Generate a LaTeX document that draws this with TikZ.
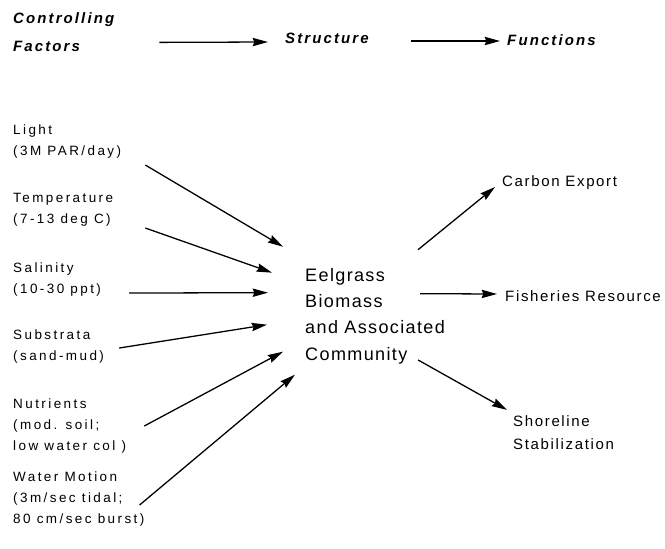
\documentclass[tikz,border=0pt]{standalone}
\usepackage{fontspec}
\setmainfont{Liberation Sans}
\newfontfamily\factorfont[LetterSpace=18]{Liberation Sans}
\newfontfamily\midfont[LetterSpace=7.5]{Liberation Sans}
\newfontfamily\funcfont[LetterSpace=11]{Liberation Sans}
\newfontfamily\headfont[LetterSpace=14]{Liberation Sans}
\usetikzlibrary{arrows.meta}

\begin{document}
\begin{tikzpicture}
[x=0.03cm,y=-0.03cm,>={Stealth[length=4.6mm,width=2.5mm,inset=0.5mm]},
flow/.style={->,line width=1.1pt},
heading/.style={anchor=base west,inner sep=0pt,align=left,font={\headfont\bfseries\itshape\fontsize{12.8pt}{23.5pt}\selectfont}},
factor/.style={anchor=base west,inner sep=0pt,align=left,font={\factorfont\fontsize{11.5pt}{17.9pt}\selectfont}},
community/.style={anchor=base west,inner sep=0pt,align=left,font={\midfont\fontsize{15.4pt}{22.2pt}\selectfont}},
func/.style={anchor=base west,inner sep=0pt,align=left,font={\funcfont\fontsize{12.8pt}{18.8pt}\selectfont}},]

\useasboundingbox (0,0) rectangle (665,548);

%Headings
\node (factors) at (13,51)[heading] {Controlling\\Factors};
\node (structure) at (285,43)[heading] {Structure};
\node (functions) at (507,45)[heading] {Functions};

\draw[flow] ([shift={(45,-9)}]factors.south east) -- ([shift={(-17,-1)}]structure.base west);
\draw[flow] ([shift={(42,-2)}]structure.base east) -- ([shift={(-7,-4)}]functions.base west);

%Controlling factors (base = last line)
\node (light) at (13,155)[factor] {Light\\(3M PAR/day)};
\node (temp) at (13,223)[factor] {Temperature\\(7-13 deg C)};
\node (salinity) at (13,293)[factor] {Salinity\\(10-30 ppt)};
\node (substrata) at (13,360)[factor] {Substrata\\(sand-mud)};
\node (nutrients) at (13,450)[factor] {Nutrients\\(mod. soil;\\low water col )};
\node (motion) at (13,523)[factor] {Water Motion\\(3m/sec tidal;\\80 cm/sec burst)};

%Structure
\node (eelgrass) at (305,360)[community] {Eelgrass\\Biomass\\and Associated\\Community};

%Functions
\node (carbon) at (502,186)[func] {Carbon Export};
\node (fisheries) at (505,301)[func] {Fisheries Resource};
\node (shoreline) at (513,449)[func] {Shoreline\\Stabilization};

%Factors to structure
\draw[flow] ([shift={(24,7)}]light.south east) -- ([shift={(-22,-22)}]eelgrass.north west);
\draw[flow] ([shift={(32,2)}]temp.south east) -- ([shift={(-33,4)}]eelgrass.north west);
\draw[flow] ([shift={(28,-3)}]salinity.south east) -- ([shift={(-37,24)}]eelgrass.north west);
\draw[flow] ([shift={(15,-15)}]substrata.south east) -- ([shift={(-38,56)}]eelgrass.north west);
\draw[flow] ([shift={(18,-27)}]nutrients.south east) -- ([shift={(-22,83)}]eelgrass.north west);
\draw[flow] ([shift={(-5,-21)}]motion.south east) -- ([shift={(-10,106)}]eelgrass.north west);

%Structure to functions
\draw[flow] ([shift={(-27,-19)}]eelgrass.north east) -- ([shift={(-7,1)}]carbon.base west);
\draw[flow] ([shift={(-25,25)}]eelgrass.north east) -- ([shift={(-8,-7)}]fisheries.base west);
\draw[flow] ([shift={(-27,-4)}]eelgrass.south east) -- ([shift={(-6,-6)}]shoreline.north west);

\end{tikzpicture}
\end{document}
